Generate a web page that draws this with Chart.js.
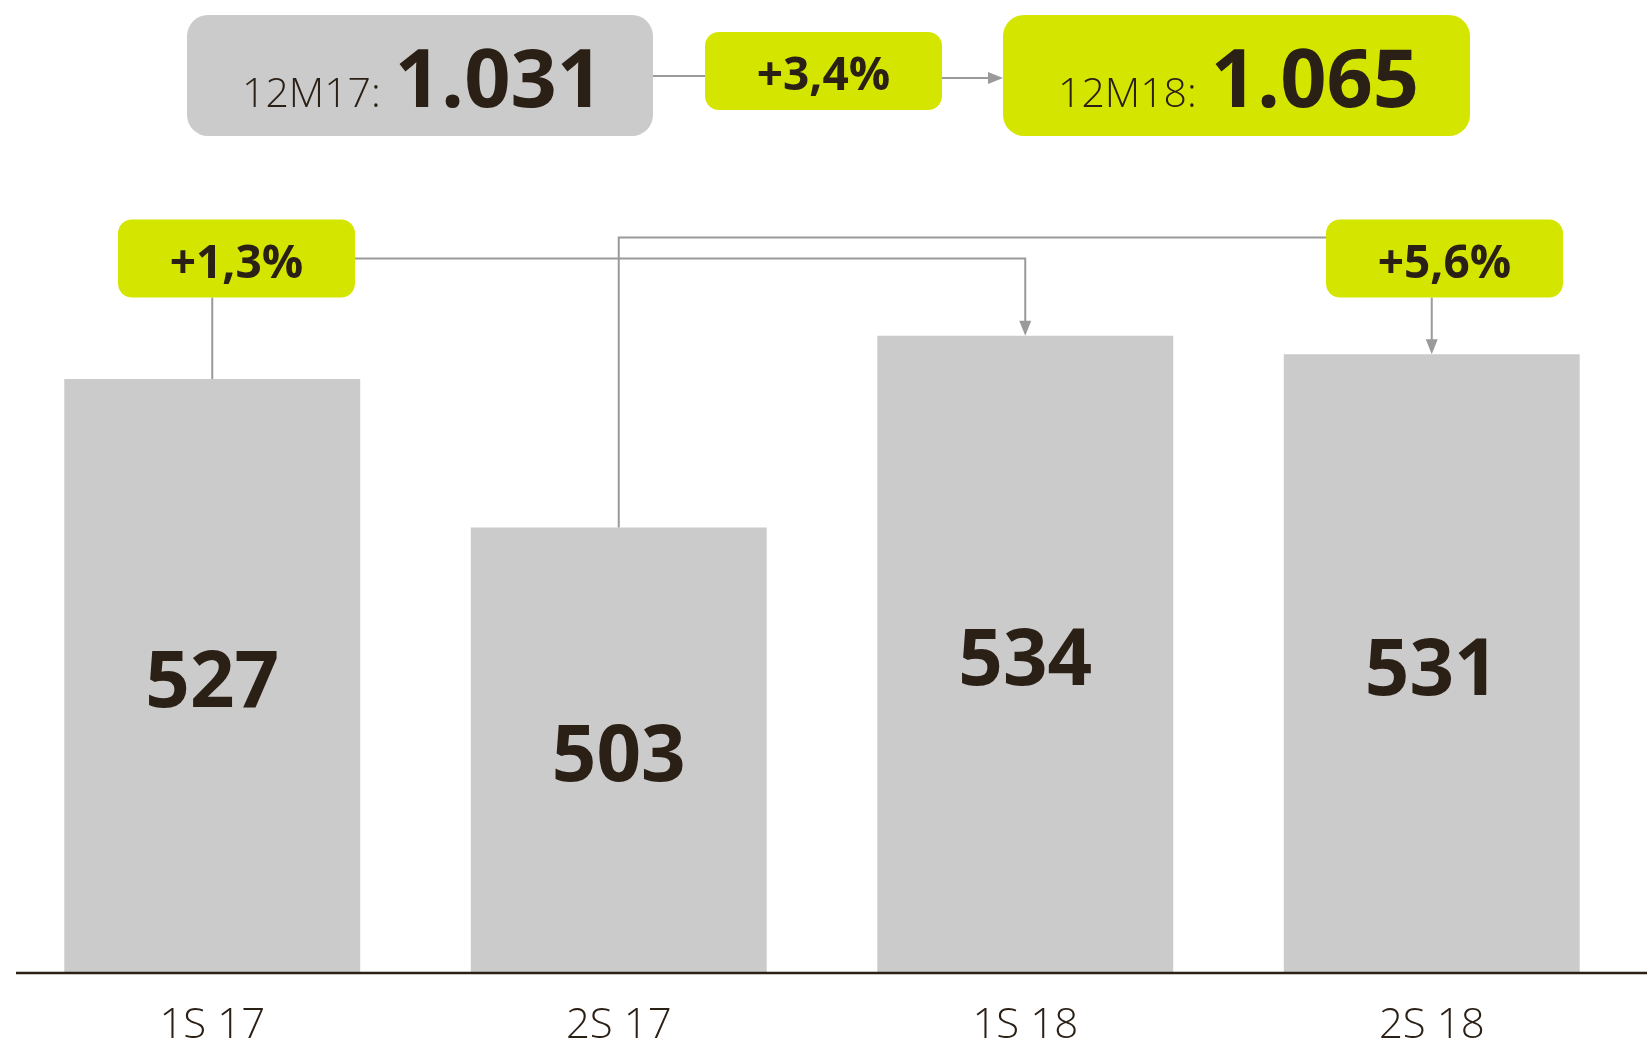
<!DOCTYPE html>
<html>
<head>
<meta charset="utf-8">
<script src="https://cdn.jsdelivr.net/npm/chart.js@4"></script>
<style>
  html, body { margin: 0; padding: 0; background: #ffffff; }
  #wrap { width: 1647px; height: 1043px; position: relative; }
</style>
</head>
<body>
<div id="wrap"><canvas id="barChart"></canvas></div>
<script>
// chart data
var categories = ['1S 17', '2S 17', '1S 18', '2S 18'];
var values = [527, 503, 534, 531];
var totalLabels = ['12M17:', '12M18:'];
var totalValues = ['1.031', '1.065'];
var halfChanges = ['+1,3%', '+5,6%'];
var yearChange = '+3,4%';

var textColor = '#2b2016';
var lime = '#d4e600';
var grey = '#cbcbcb';
var lineColor = '#9a9a9a';

function roundBox(ctx, x, y, w, h, r, color) {
    ctx.beginPath();
    ctx.moveTo(x + r, y);
    ctx.arcTo(x + w, y, x + w, y + h, r);
    ctx.arcTo(x + w, y + h, x, y + h, r);
    ctx.arcTo(x, y + h, x, y, r);
    ctx.arcTo(x, y, x + w, y, r);
    ctx.closePath();
    ctx.fillStyle = color;
    ctx.fill();
}

function arrowHead(ctx, x, y, dir) {
    // dir: 'down' or 'right', tip at x,y
    ctx.beginPath();
    if (dir === 'down') {
        ctx.moveTo(x, y);
        ctx.lineTo(x - 6, y - 15);
        ctx.lineTo(x + 6, y - 15);
    } else {
        ctx.moveTo(x, y);
        ctx.lineTo(x - 15, y - 6);
        ctx.lineTo(x - 15, y + 6);
    }
    ctx.closePath();
    ctx.fillStyle = lineColor;
    ctx.fill();
}

function polyline(ctx, pts) {
    ctx.beginPath();
    ctx.moveTo(pts[0][0], pts[0][1]);
    for (var i = 1; i < pts.length; i++) ctx.lineTo(pts[i][0], pts[i][1]);
    ctx.strokeStyle = lineColor;
    ctx.lineWidth = 2;
    ctx.stroke();
}

var overlayPlugin = {
    id: 'overlay',
    afterDatasetsDraw: function (chart) {
        var ctx = chart.ctx;
        var bars = chart.getDatasetMeta(0).data;
        var bottom = chart.chartArea.bottom;
        ctx.save();

        // baseline across the page
        ctx.beginPath();
        ctx.moveTo(16, bottom);
        ctx.lineTo(chart.width, bottom);
        ctx.strokeStyle = textColor;
        ctx.lineWidth = 2.5;
        ctx.stroke();

        // values inside the bars
        ctx.fillStyle = textColor;
        ctx.textAlign = 'center';
        ctx.textBaseline = 'alphabetic';
        ctx.font = 'bold 78px "Open Sans"';
        bars.forEach(function (bar, i) {
            var mid = (bar.y + bottom) / 2;
            ctx.fillText(String(values[i]), bar.x, mid + 31);
        });

        // top totals
        var tops = [
            { x: 187, w: 466, color: grey },
            { x: 1003, w: 467, color: lime }
        ];
        tops.forEach(function (t, i) {
            roundBox(ctx, t.x, 15, t.w, 121, 21, t.color);
            ctx.fillStyle = textColor;
            ctx.textAlign = 'left';
            ctx.font = '300 41px "Open Sans"';
            ctx.fillText(totalLabels[i], t.x + 55, 107);
            var lw = ctx.measureText(totalLabels[i]).width;
            ctx.font = 'bold 81px "Open Sans"';
            ctx.fillText(totalValues[i], t.x + 55 + lw + 14, 107);
        });

        // year-on-year change between the totals
        polyline(ctx, [[653, 76], [705, 76]]);
        polyline(ctx, [[942, 78], [990, 78]]);
        arrowHead(ctx, 1003, 78, 'right');
        roundBox(ctx, 705, 32, 237, 78, 14, lime);
        ctx.fillStyle = textColor;
        ctx.textAlign = 'center';
        ctx.font = 'bold 46px "Open Sans"';
        ctx.fillText(yearChange, 823.5, 90);

        // half-year changes
        var b1 = bars[0], b2 = bars[1], b3 = bars[2], b4 = bars[3];
        var box1 = { x: 118, y: 219.5, w: 237, h: 78 };
        var box2 = { x: 1326, y: 219.5, w: 237, h: 78 };

        polyline(ctx, [[b1.x, box1.y + box1.h], [b1.x, b1.y]]);
        polyline(ctx, [[box1.x + box1.w, 258.5], [b3.x, 258.5], [b3.x, b3.y - 12]]);
        arrowHead(ctx, b3.x, b3.y, 'down');
        polyline(ctx, [[b2.x, b2.y], [b2.x, 237.5], [box2.x, 237.5]]);
        polyline(ctx, [[b4.x, box2.y + box2.h], [b4.x, b4.y - 12]]);
        arrowHead(ctx, b4.x, b4.y, 'down');

        [box1, box2].forEach(function (bx, i) {
            roundBox(ctx, bx.x, bx.y, bx.w, bx.h, 14, lime);
            ctx.fillStyle = textColor;
            ctx.textAlign = 'center';
            ctx.font = 'bold 46px "Open Sans"';
            ctx.fillText(halfChanges[i], bx.x + bx.w / 2, bx.y + 58.5);
        });

        ctx.restore();
    }
};

var ctx = document.getElementById('barChart').getContext('2d');
var barChart = new Chart(ctx, {
    type: 'bar',
    data: {
        labels: categories,
        datasets: [{
            data: values,
            backgroundColor: grey,
            borderWidth: 0,
            barPercentage: 0.728,
            categoryPercentage: 1
        }]
    },
    options: {
        responsive: true,
        maintainAspectRatio: false,
        animation: false,
        layout: { padding: { left: 9, right: 12, top: 150, bottom: 0 } },
        plugins: {
            legend: { display: false },
            tooltip: { enabled: false }
        },
        scales: {
            x: {
                afterFit: function (scale) { scale.height = 70; },
                grid: { display: false, drawTicks: false },
                border: { display: false },
                ticks: {
                    color: textColor,
                    padding: 32,
                    font: { family: 'Open Sans', size: 42, weight: '300', lineHeight: 1 }
                }
            },
            y: {
                display: false,
                min: 431,
                max: 564
            }
        }
    },
    plugins: [overlayPlugin]
});
</script>
</body>
</html>
